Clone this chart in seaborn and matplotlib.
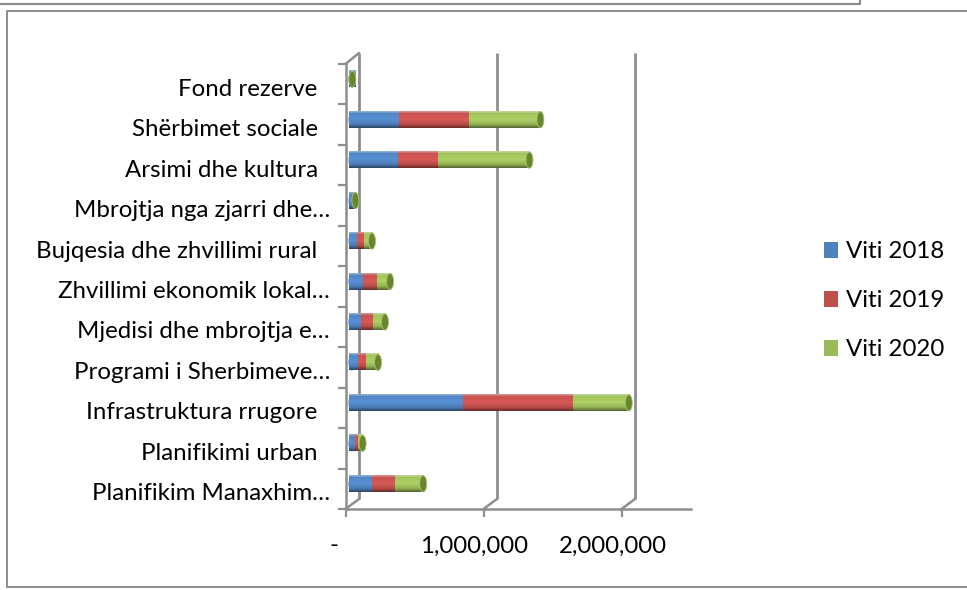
import numpy as np
import pandas as pd
import seaborn as sns
import matplotlib
matplotlib.use("Agg")
import matplotlib.pyplot as plt
from matplotlib.patches import Ellipse, ConnectionPatch, Rectangle
from matplotlib.colors import to_rgb
from matplotlib.transforms import ScaledTranslation

sns.set_theme(style="white")
plt.rcParams['font.family'] = ['Lato', 'DejaVu Sans']

categories = ["Fond rezerve  ", "Shërbimet sociale  ", "Arsimi dhe kultura  ",
              "Mbrojtja nga zjarri dhe…", "Bujqesia dhe zhvillimi rural  ",
              "Zhvillimi ekonomik lokal…", "Mjedisi dhe mbrojtja e…",
              "Programi i Sherbimeve…", "Infrastruktura rrugore  ",
              "Planifikimi urban  ", "Planifikim Manaxhim…"]
viti_2018 = [300, 342000, 336000, 6000, 36000, 80000, 65000, 44000, 806000, 22000, 146000]
viti_2019 = [300, 508000, 290000, 7000, 51000, 102000, 87000, 58000, 792000, 22000, 167000]
viti_2020 = [2000, 515000, 660000, 12000, 58000, 94000, 87000, 87000, 408000, 33000, 203000]
series_names = ["Viti 2018", "Viti 2019", "Viti 2020"]
series_colors = ["#4F81BD", "#C0504D", "#9BBB59"]
x_ticks = [0, 1000000, 2000000]
x_labels = ["-", "1,000,000", "2,000,000"]
x_max = 2500000

W, H = 967, 590
GRID = "#8E8E8E"
FS = 17.3


def axes_px(x0, y0, x1, y1):
    return fig.add_axes([x0 / W, 1 - y1 / H, (x1 - x0) / W, (y1 - y0) / H])


fig = plt.figure(figsize=(W / 100, H / 100), dpi=100, facecolor="white")

# outer frames
frame = fig.add_axes([0, 0, 1, 1], zorder=0)
frame.set_xlim(0, W)
frame.set_ylim(H, 0)
frame.axis("off")
frame.plot([0, 860, 860], [4, 4, 0], color="#8C8C8C", lw=1.6)
frame.plot([967, 7, 7, 967], [11, 11, 587, 587], color="#8C8C8C", lw=1.4)

# back wall
back = axes_px(359, 53, 704, 499)
back.set_zorder(1)
back.set_xlim(0, x_max)
back.set_ylim(0, 1)
back.patch.set_alpha(0)
for s in back.spines.values():
    s.set_visible(False)
back.set_xticks([])
back.set_yticks([])
for t in x_ticks:
    back.plot([t, t], [0, 1], color=GRID, lw=2, solid_capstyle="butt", clip_on=False)

# front axis
front = axes_px(345.5, 64, 690.5, 509)
front.set_zorder(2)
ymax = len(categories) - 0.5
front.set_xlim(0, x_max)
front.set_ylim(ymax, -0.5)
front.patch.set_alpha(0)
for k in ("top", "right"):
    front.spines[k].set_visible(False)
for k in ("left", "bottom"):
    front.spines[k].set_color(GRID)
    front.spines[k].set_linewidth(1.8)
front.set_xticks(x_ticks)
front.set_xticklabels(x_labels, fontsize=FS, color="black")
front.set_yticks(np.arange(len(categories) + 1) - 0.5)
front.set_yticklabels([])
front.tick_params(axis="x", length=6, width=1.6, color=GRID, bottom=True, pad=13)
front.tick_params(axis="y", length=6, width=1.6, color=GRID, left=True)
for i, lab in enumerate(front.get_xticklabels()):
    dx = -12 if i == 0 else -9
    lab.set_transform(lab.get_transform() + ScaledTranslation(dx / 100, 0, fig.dpi_scale_trans))
for i, c in enumerate(categories):
    front.annotate(c, xy=(0, i), xycoords=("axes fraction", "data"),
                   xytext=(-15.5 * .72, -5 * .72), textcoords="offset points",
                   ha="right", va="center", fontsize=FS, color="black")

# perspective connectors
for t in x_ticks:
    fig.add_artist(ConnectionPatch((t, ymax), (t, 0), "data", "data", axesA=front, axesB=back,
                                   color=GRID, lw=1.8))
fig.add_artist(ConnectionPatch((0, -0.5), (0, 1), "data", "data", axesA=front, axesB=back,
                               color=GRID, lw=1.8))

# bars
bars = axes_px(352, 59, 697, 504)
bars.set_zorder(3)
bars.patch.set_alpha(0)
df = pd.DataFrame({"cat": categories, "Viti 2018": viti_2018,
                   "Viti 2019": viti_2019, "Viti 2020": viti_2020})
starts = np.zeros(len(categories))
bar_h = 0.40
for name, col in zip(series_names, series_colors):
    sns.barplot(data=df, y="cat", x=name, order=categories, left=starts, color=col, width=bar_h,
                saturation=1, orient="h", ax=bars, legend=False)
    starts = starts + df[name].to_numpy()


def gradient(base):
    base = np.array(to_rgb(base))
    out = []
    for t in np.linspace(0, 1, 32):
        if t < 0.07:
            out.append(base + (1 - base) * 0.35)
        elif t < 0.5:
            out.append(base * (1.02 + 0.2 * t))
        elif t < 0.8:
            out.append(base * (1.12 - (t - 0.5) * 0.6))
        else:
            out.append(base * (0.94 - (t - 0.8) * 2.0))
    return np.clip(np.array(out), 0, 1)[:, None, :]


ellipse_w = 7 / 345 * x_max
patches = list(bars.patches)
ncat = len(categories)
for si, col in enumerate(series_colors):
    grad = gradient(col)
    for p in patches[si * ncat: (si + 1) * ncat]:
        x0, w, y0, h = p.get_x(), p.get_width(), p.get_y(), p.get_height()
        if si == 0:
            e0 = Ellipse((x0, y0 + h / 2), ellipse_w, h, facecolor=col, edgecolor="none",
                         zorder=1.5, clip_on=False)
            bars.add_patch(e0)
            im0 = bars.imshow(grad, extent=(x0 - ellipse_w / 2, x0 + ellipse_w / 2, y0 + h, y0),
                              aspect="auto", zorder=1.6, interpolation="bilinear", clip_on=False)
            im0.set_clip_path(e0)
        bars.imshow(grad, extent=(x0, x0 + w, y0 + h, y0), aspect="auto", zorder=2 + si * .1,
                    interpolation="bilinear")
        p.set_visible(False)
for i, end in enumerate(starts):
    bars.add_patch(Ellipse((end, i), ellipse_w, bar_h, facecolor="#68862F", edgecolor="#A9C26F",
                           lw=0.6, zorder=3, clip_on=False))
bars.set_xlim(0, x_max)
bars.set_ylim(ymax, -0.5)
bars.axis("off")

# legend
handles = [Rectangle((0, 0), 1, 1, facecolor=c, edgecolor="none") for c in series_colors]
leg = fig.legend(handles, series_names, loc="upper left", bbox_to_anchor=(823.5 / W, 1 - 241.5 / H),
                 frameon=False, fontsize=FS, handlelength=0.62, handleheight=0.62,
                 handletextpad=0.30, labelspacing=1.16, borderpad=0, borderaxespad=0)
for t in leg.get_texts():
    t.set_color("black")

fig.savefig("out.png", dpi=100, facecolor="white")
